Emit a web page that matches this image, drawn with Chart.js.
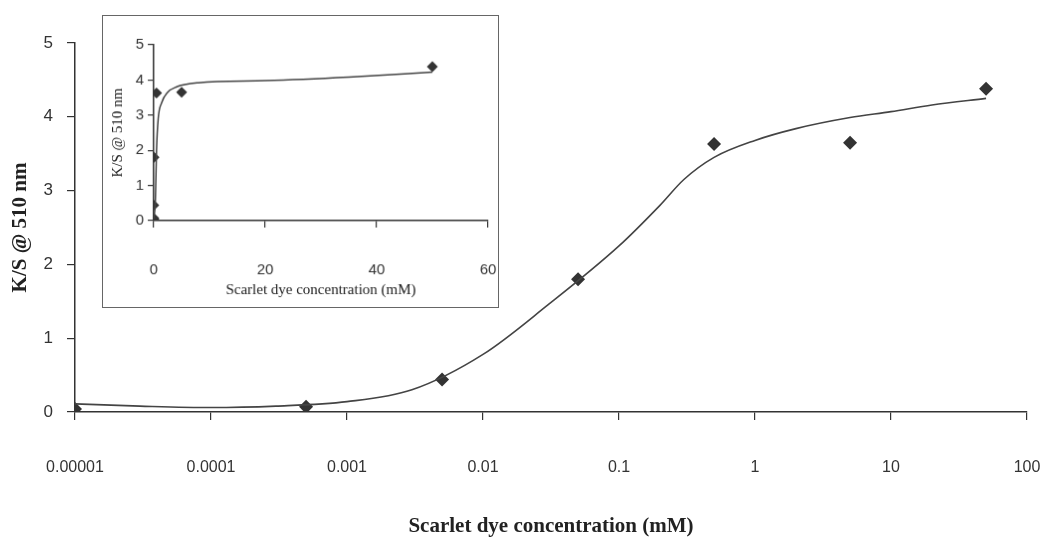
<!DOCTYPE html>
<html>
<head>
<meta charset="utf-8">
<script src="https://cdn.jsdelivr.net/npm/chart.js@4.4.1/dist/chart.umd.min.js"></script>
<style>
  body { margin: 0; background: #fff; }
  #wrap { position: relative; width: 1045px; height: 541px; }
  #mainChart { position: absolute; left: 0; top: 0; }
  #insetChart { position: absolute; left: 102px; top: 15px; border: 1px solid #666; background: #fff; }
</style>
</head>
<body>
<div id="wrap">
  <canvas id="mainChart" width="1045" height="541"></canvas>
  <canvas id="insetChart" width="397" height="293"></canvas>
</div>
<script>
// measured points (mM, K/S)
const concentration = [0.00001, 0.0005, 0.005, 0.05, 0.5, 5, 50];
const ksValues = [0.04, 0.07, 0.44, 1.80, 3.63, 3.65, 4.38];

// fitted curve, main plot (log x)
const fitConc = [0.00001, 0.00003, 0.0001, 0.0003, 0.001, 0.003, 0.01, 0.03, 0.1, 0.2, 0.3, 0.5, 1, 2, 5, 10, 20, 50];
const fitKs = [0.11, 0.08, 0.06, 0.08, 0.14, 0.30, 0.78, 1.45, 2.25, 2.80, 3.15, 3.45, 3.68, 3.84, 3.99, 4.07, 4.16, 4.25];

// fitted curve, inset (linear x)
const insetFitConc = [0, 0.3, 0.5, 0.8, 1.4, 2.5, 4, 8, 20, 35, 50];
const insetFitKs = [0.05, 0.6, 2.0, 2.9, 3.35, 3.65, 3.8, 3.92, 3.98, 4.08, 4.22];

const xTicks = [0.00001, 0.0001, 0.001, 0.01, 0.1, 1, 10, 100];
const xTickLabels = ['0.00001', '0.0001', '0.001', '0.01', '0.1', '1', '10', '100'];
const insetXTicks = [0, 20, 40, 60];

const ink = '#333';
const sansFont = 'Liberation Sans, Arial, sans-serif';
const serifFont = 'Liberation Serif, Times New Roman, serif';

const toXY = (xs, ys) => xs.map((x, i) => ({ x: x, y: ys[i] }));

//Gráfico principal
new Chart(document.querySelector('#mainChart'), {
  type: 'scatter',
  data: {
    datasets: [
      {
        label: 'fit',
        data: toXY(fitConc, fitKs),
        showLine: true,
        borderColor: '#444',
        borderWidth: 1.6,
        pointRadius: 0,
        cubicInterpolationMode: 'monotone'
      },
      {
        label: 'K/S',
        data: toXY(concentration, ksValues),
        pointStyle: 'rectRot',
        pointRadius: 7,
        backgroundColor: ink,
        borderColor: ink,
        borderWidth: 0
      }
    ]
  },
  options: {
    responsive: false,
    animation: false,
    layout: { padding: { top: 43, right: 18, left: 0, bottom: 0 } },
    plugins: { legend: { display: false }, tooltip: { enabled: false } },
    scales: {
      x: {
        type: 'logarithmic',
        min: 0.00001,
        max: 100,
        afterBuildTicks: s => { s.ticks = xTicks.map(v => ({ value: v })); },
        afterFit: s => { s.height = 129; s.paddingLeft = 0; s.paddingRight = 0; },
        ticks: {
          color: ink,
          padding: 38,
          maxRotation: 0,
          autoSkip: false,
          font: { family: sansFont, size: 16 },
          callback: (v, i) => xTickLabels[i]
        },
        grid: { drawOnChartArea: false, tickLength: 8, color: ink, lineWidth: 1.2 },
        border: { color: ink, width: 1.5 },
        title: {
          display: true,
          text: 'Scarlet dye concentration (mM)',
          color: '#222',
          padding: { top: 0, bottom: 2 },
          font: { family: serifFont, size: 21, weight: 'bold' }
        }
      },
      y: {
        min: 0,
        max: 5,
        afterFit: s => { s.width = 75; },
        ticks: {
          stepSize: 1,
          color: ink,
          padding: 14,
          font: { family: sansFont, size: 17 }
        },
        grid: { drawOnChartArea: false, tickLength: 8, color: ink, lineWidth: 1.2 },
        border: { color: ink, width: 1.5 },
        title: {
          display: true,
          text: 'K/S @ 510 nm',
          color: '#222',
          padding: { top: 8, bottom: 0 },
          font: { family: serifFont, size: 21, weight: 'bold' }
        }
      }
    }
  }
});

//Gráfico inserto (escala lineal)
new Chart(document.querySelector('#insetChart'), {
  type: 'scatter',
  data: {
    datasets: [
      {
        label: 'fit',
        data: toXY(insetFitConc, insetFitKs),
        showLine: true,
        borderColor: '#444',
        borderWidth: 1.5,
        pointRadius: 0,
        cubicInterpolationMode: 'monotone'
      },
      {
        label: 'K/S',
        data: toXY(concentration, ksValues),
        pointStyle: 'rectRot',
        pointRadius: 5.5,
        backgroundColor: ink,
        borderColor: ink,
        borderWidth: 0
      }
    ]
  },
  options: {
    responsive: false,
    animation: false,
    layout: { padding: { top: 29, right: 10, left: 0, bottom: 0 } },
    plugins: { legend: { display: false }, tooltip: { enabled: false } },
    scales: {
      x: {
        type: 'linear',
        min: 0,
        max: 60,
        afterBuildTicks: s => { s.ticks = insetXTicks.map(v => ({ value: v })); },
        afterFit: s => { s.height = 87; s.paddingLeft = 0; s.paddingRight = 0; },
        ticks: {
          color: ink,
          padding: 34,
          maxRotation: 0,
          font: { family: sansFont, size: 15 }
        },
        grid: { drawOnChartArea: false, tickLength: 7, color: ink, lineWidth: 1.2 },
        border: { color: ink, width: 1.5 },
        title: {
          display: true,
          text: 'Scarlet dye concentration (mM)',
          color: '#222',
          padding: { top: 0, bottom: 8 },
          font: { family: serifFont, size: 15 }
        }
      },
      y: {
        min: 0,
        max: 5,
        afterFit: s => { s.width = 51; },
        ticks: {
          stepSize: 1,
          color: ink,
          padding: 4,
          font: { family: sansFont, size: 15 }
        },
        grid: { drawOnChartArea: false, tickLength: 6, color: ink, lineWidth: 1.2 },
        border: { color: ink, width: 1.5 },
        title: {
          display: true,
          text: 'K/S @ 510 nm',
          color: '#222',
          padding: { top: 6, bottom: 0 },
          font: { family: serifFont, size: 15 }
        }
      }
    }
  }
});
</script>
</body>
</html>
